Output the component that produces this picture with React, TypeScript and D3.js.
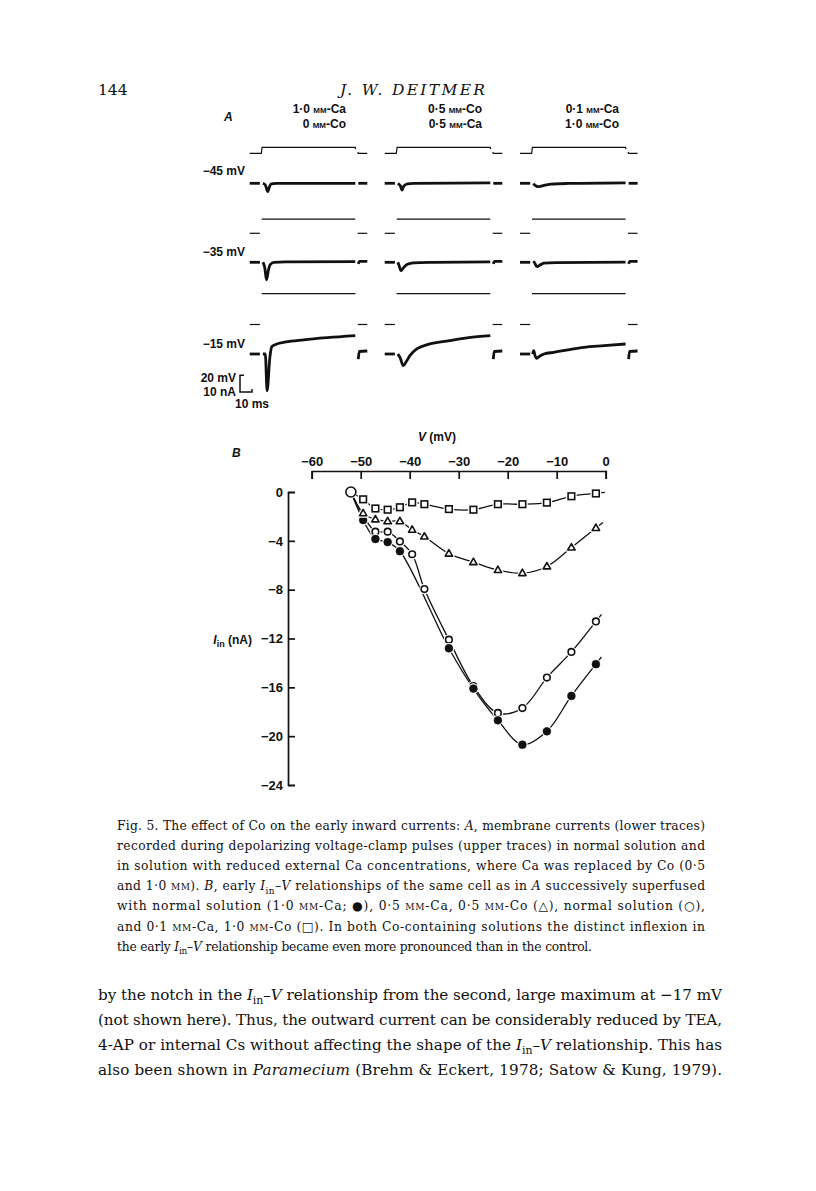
import * as d3 from "d3";
import { useEffect, useRef } from "react";

const sans = "'Liberation Sans', Arial, sans-serif";
const serif = "'DejaVu Serif', 'Liberation Serif', serif";

// ---------- panel A: membrane currents ----------
const columnLabels = [
  ["1·0 mm-Ca", "0 mm-Co"],
  ["0·5 mm-Co", "0·5 mm-Ca"],
  ["0·1 mm-Ca", "1·0 mm-Co"],
];
const stepLabels = ["−45 mV", "−35 mV", "−15 mV"];
const stepPotentials = [-45, -35, -15];
const holdingPotential = -52;
const pulseEnd = 78; // ms

// current keypoints [ms, nA], per row (step) and column (solution)
const currentsAt45 = [
  [[1, 0], [3, -1], [5, -5], [6.5, -2], [8, -0.4], [12, 0], [78, 0]],
  [[1, 0], [3, -1.5], [4.5, -4], [6, -1.6], [9, -0.3], [14, 0], [78, 0.2]],
  [[1, -0.3], [4, -1.8], [6, -2], [10, -1.2], [16, -0.5], [30, -0.1], [78, 0.3]],
];
const currentsAt35 = [
  [[1, 0], [2.5, -3], [4, -10.5], [5.5, -5], [7, -1.5], [10, 0], [20, 0.3], [78, 0.4]],
  [[1, 0], [2, -2], [3.5, -5], [6, -3], [9, -1.2], [14, -0.3], [30, 0], [78, 0.3]],
  [[1, 0.6], [2, 0], [4, -2.6], [7, -1.5], [10, -0.5], [20, -0.2], [78, 0.1]],
];
const currentsAt15 = [
  [[1, 0], [3, 0], [4.5, -22], [6.8, -2], [8.5, 4.5], [12, 5.8], [20, 7.2], [35, 8.5], [55, 9.8], [78, 11]],
  [[1, 0], [3, -2.5], [5.5, -7], [8, -4.5], [11, -1], [16.7, 3], [25, 5.5], [44, 8], [60, 9.8], [78, 11]],
  [[0.5, 0], [1.5, 2], [2.5, -1], [4, -2.6], [6, -1.5], [10, 0], [18, 1], [30, 2.5], [43, 4], [60, 5], [78, 6]],
];
const currentRows = [currentsAt45, currentsAt35, currentsAt15];
const preCurrent = [[-10, 0], [-1.5, 0]];
const postCurrents = [
  [[80.5, 0], [88, 0]],
  [[80.5, -1], [81.5, 0.6], [88, 0.6]],
  [[80.5, -3], [81.3, 1.5], [88, 1.8]],
];

// ---------- panel B: early Iin-V ----------
const ivVoltage = [-52, -49.5, -47, -44.5, -42, -39.5, -37, -32, -27, -22, -17, -12, -7, -2];
const ivControl = [0, -2.3, -3.85, -4.1, -4.85, null, null, -12.8, -16.1, -18.7, -20.7, -19.6, -16.7, -14.1];
const ivCo05 = [0, -1.75, -2.25, -2.4, -2.4, -3.1, -3.65, -5.05, -5.75, -6.4, -6.65, -6.1, -4.55, -2.95];
const ivWash = [0, null, -3.25, -3.25, -4.05, -5.1, -7.95, -12.1, -15.9, -18.1, -17.7, -15.2, -13.1, -10.6];
const ivCo10 = [0, -0.6, -1.35, -1.45, -1.25, -0.85, -1.0, -1.4, -1.45, -1.0, -1.0, -0.87, -0.35, -0.12];
const xTicksB = [-60, -50, -40, -30, -20, -10, 0];
const yTicksB = [0, -4, -8, -12, -16, -20, -24];

// ---------- text ----------
type Seg = string | { t: string; i?: boolean; sub?: boolean; sc?: boolean };
const I_in: Seg[] = [{ t: "I", i: true }, { t: "in", sub: true }, "–", { t: "V", i: true }];
const mm: Seg = { t: "mm", sc: true };

const captionLines: Seg[][] = [
  ["Fig. 5. The effect of Co on the early inward currents: ", { t: "A", i: true }, ", membrane currents (lower traces)"],
  ["recorded during depolarizing voltage-clamp pulses (upper traces) in normal solution and"],
  ["in solution with reduced external Ca concentrations, where Ca was replaced by Co (0·5"],
  ["and 1·0 ", mm, "). ", { t: "B", i: true }, ", early ", ...I_in, " relationships of the same cell as in ", { t: "A", i: true }, " successively superfused"],
  ["with normal solution (1·0 ", mm, "-Ca; ●), 0·5 ", mm, "-Ca, 0·5 ", mm, "-Co (△), normal solution (○),"],
  ["and 0·1 ", mm, "-Ca, 1·0 ", mm, "-Co (□). In both Co-containing solutions the distinct inflexion in"],
  ["the early ", ...I_in, " relationship became even more pronounced than in the control."],
];
const captionWidths = [588, 588, 588, 588, 588, 588, 475];
const bodyLines: Seg[][] = [
  ["by the notch in the ", ...I_in, " relationship from the second, large maximum at −17 mV"],
  ["(not shown here). Thus, the outward current can be considerably reduced by TEA,"],
  ["4-AP or internal Cs without affecting the shape of the ", ...I_in, " relationship. This has"],
  ["also been shown in ", { t: "Paramecium", i: true }, " (Brehm & Eckert, 1978; Satow & Kung, 1979)."],
];

function TextLine({ x, y, size, segs, width }: { x: number; y: number; size: number; segs: Seg[]; width?: number }) {
  let inSub = false;
  const shift = size * 0.28;
  return (
    <text x={x} y={y} fontSize={size} fontFamily={serif} fill="#111" textLength={width} lengthAdjust={width ? "spacing" : undefined}>
      {segs.map((s, k) => {
        const seg = typeof s === "string" ? { t: s } : s;
        let dy: number | undefined;
        if (seg.sub && !inSub) { dy = shift; inSub = true; }
        else if (!seg.sub && inSub) { dy = -shift; inSub = false; }
        return (
          <tspan key={k} dy={dy} fontStyle={seg.i ? "italic" : undefined}
            fontSize={seg.sub ? size * 0.72 : undefined}
            style={seg.sc ? { fontVariant: "small-caps" } : undefined}>{seg.t}</tspan>
        );
      })}
    </text>
  );
}

function smallCaps(str: string) {
  const parts = str.split("mm");
  return parts.flatMap((p, i) => i === 0 ? [p] : [<tspan key={i} style={{ fontVariant: "small-caps" }}>mm</tspan>, p]);
}

const App = () => {
  const xAxisRef = useRef<SVGGElement>(null);
  const yAxisRef = useRef<SVGGElement>(null);

  // panel A layout
  const colT0 = [261.7, 396.7, 532];
  const vBase = [153.3, 233.3, 324.5];
  const iBase = [183.3, 262.3, 354];
  const msPx = 1.2, nAPx = 1.67, mVPx = 0.835;

  // panel B scales
  const xB = d3.scaleLinear().domain([-60, 0]).range([311.7, 605.7]);
  const yB = d3.scaleLinear().domain([0, -24]).range([492, 785]);

  useEffect(() => {
    const gx = d3.select(xAxisRef.current!);
    gx.call(d3.axisTop(xB).tickValues(xTicksB).tickSizeInner(-8).tickSizeOuter(-8).tickPadding(5) as any);
    const gy = d3.select(yAxisRef.current!);
    gy.call(d3.axisLeft(yB).tickValues(yTicksB).tickSizeInner(-7).tickSizeOuter(-7).tickPadding(5) as any);
    [gx, gy].forEach((g) => {
      g.attr("font-family", null).attr("font-size", null);
      g.select(".domain").attr("stroke-width", 1.7).attr("stroke", "#111");
      g.selectAll(".tick line").attr("stroke-width", 1.7).attr("stroke", "#111");
      g.selectAll("text").attr("font-family", sans).attr("font-size", 13).attr("font-weight", "bold").attr("fill", "#111");
    });
  }, []);

  const tracePaths: JSX.Element[] = [];
  stepPotentials.forEach((V, r) => {
    colT0.forEach((t0, c) => {
      const x = d3.scaleLinear().domain([0, 10]).range([t0, t0 + 10 * msPx]);
      const yI = d3.scaleLinear().domain([0, -10]).range([iBase[r], iBase[r] + 10 * nAPx]);
      const yV = d3.scaleLinear().domain([holdingPotential, holdingPotential + 20]).range([vBase[r], vBase[r] - 20 * mVPx]);
      const linV = d3.line<number[]>().x((d) => x(d[0])).y((d) => yV(d[1]));
      const curI = d3.line<number[]>().x((d) => x(d[0])).y((d) => yI(d[1])).curve(d3.curveMonotoneX);
      const vSegs = r === 0
        ? [[[-10, holdingPotential], [-0.3, holdingPotential], [0.3, V], [pulseEnd, V], [pulseEnd + 0.3, V - 2]], [[80, holdingPotential + 1.5], [80.5, holdingPotential], [88, holdingPotential]]]
        : [[[-10, holdingPotential], [-1.5, holdingPotential]], [[0, V], [pulseEnd, V]], [[80, holdingPotential], [88, holdingPotential]]];
      vSegs.forEach((s, k) => tracePaths.push(
        <path key={`v${r}${c}${k}`} d={linV(s) || ""} fill="none" stroke="#111" strokeWidth={1.2} />
      ));
      [preCurrent, currentRows[r][c], postCurrents[r]].forEach((s, k) => tracePaths.push(
        <path key={`i${r}${c}${k}`} d={curI(s) || ""} fill="none" stroke="#111" strokeWidth={2.8} strokeLinejoin="round" />
      ));
    });
  });

  // scale bar derived from the same units
  const sbX = 240, sbY = 392;

  // IV series
  const series = [
    { key: "wash", vals: ivWash, mark: "open" },
    { key: "control", vals: ivControl, mark: "filled" },
    { key: "co05", vals: ivCo05, mark: "tri" },
    { key: "co10", vals: ivCo10, mark: "square" },
  ];
  const ivLine = d3.line<[number, number]>().x((d) => xB(d[0])).y((d) => yB(d[1])).curve(d3.curveCatmullRom.alpha(0.5));

  const lines = series.map((s) => {
    const pts = ivVoltage.map((v, i) => [v, s.vals[i]] as [number, number | null]).filter((d) => d[1] !== null) as [number, number][];
    const n = pts.length;
    const p1 = [xB(pts[n - 2][0]), yB(pts[n - 2][1])];
    const p2 = [xB(pts[n - 1][0]), yB(pts[n - 1][1])];
    const len = Math.hypot(p2[0] - p1[0], p2[1] - p1[1]);
    const tail = `M${p2[0]},${p2[1]}L${p2[0] + ((p2[0] - p1[0]) / len) * 9},${p2[1] + ((p2[1] - p1[1]) / len) * 9}`;
    return (
      <g key={s.key}>
        <path d={ivLine(pts) || ""} fill="none" stroke="#111" strokeWidth={1.3} />
        <path d={tail} fill="none" stroke="#111" strokeWidth={1.3} />
      </g>
    );
  });

  const marker = (mark: string, cx: number, cy: number, key: string) => {
    if (mark === "open" || mark === "filled") {
      return (
        <g key={key}>
          <circle cx={cx} cy={cy} r={4.2} fill="#fff" stroke="#fff" strokeWidth={2.2} />
          <circle cx={cx} cy={cy} r={mark === "open" ? 3.3 : 3.9} fill={mark === "open" ? "#fff" : "#111"} stroke="#111" strokeWidth={mark === "open" ? 1.6 : 0.6} />
        </g>
      );
    }
    if (mark === "tri") {
      const s = 7.4, h = s * 0.866;
      const d = `M${cx},${cy - h * 0.62}L${cx + s / 2},${cy + h * 0.38}L${cx - s / 2},${cy + h * 0.38}Z`;
      return (
        <g key={key}>
          <path d={d} fill="#fff" stroke="#fff" strokeWidth={4} strokeLinejoin="round" />
          <path d={d} fill="#fff" stroke="#111" strokeWidth={1.6} strokeLinejoin="round" />
        </g>
      );
    }
    const s = 6.6;
    return (
      <g key={key}>
        <rect x={cx - s / 2} y={cy - s / 2} width={s} height={s} fill="#fff" stroke="#fff" strokeWidth={4} />
        <rect x={cx - s / 2} y={cy - s / 2} width={s} height={s} fill="#fff" stroke="#111" strokeWidth={1.6} />
      </g>
    );
  };

  const markers = series.flatMap((s) =>
    ivVoltage.map((v, i) => (i === 0 || s.vals[i] === null ? null : marker(s.mark, xB(v), yB(s.vals[i] as number), `${s.key}${i}`)))
  );

  return (
    <svg width={816} height={1191} style={{ position: "absolute", left: 0, top: 0, background: "#fff" }}>
      <rect width={816} height={1191} fill="#fff" />
      {/* running head */}
      <text x={98} y={95} fontFamily={serif} fontSize={15.5} fill="#111">144</text>
      <text x={340} y={95} fontFamily={serif} fontSize={15.5} fontStyle="italic" fill="#111" textLength={145} lengthAdjust="spacing">J. W. DEITMER</text>

      {/* panel A */}
      <g fontFamily={sans} fontWeight="bold" fill="#111">
        <text x={224} y={121} fontSize={12} fontStyle="italic">A</text>
        {columnLabels.map((lab, c) => (
          <g key={c}>
            {lab.map((l, k) => (
              <text key={k} x={[346, 482, 619][c]} y={113 + k * 15} fontSize={12} textAnchor="end">{smallCaps(l)}</text>
            ))}
          </g>
        ))}
        {stepLabels.map((l, r) => (
          <text key={l} x={245} y={[175, 256, 348][r]} fontSize={12} textAnchor="end">{l}</text>
        ))}
        <text x={236} y={382} fontSize={12} textAnchor="end">20 mV</text>
        <text x={236} y={396} fontSize={12} textAnchor="end">10 nA</text>
        <text x={235} y={408} fontSize={12}>10 ms</text>
      </g>
      {tracePaths}
      <path d={`M${sbX + 4},${sbY - 10 * nAPx}H${sbX}V${sbY}H${sbX + 10 * msPx}V${sbY - 3}`} fill="none" stroke="#111" strokeWidth={1.5} />

      {/* panel B */}
      <g fontFamily={sans} fontWeight="bold" fill="#111">
        <text x={232} y={457} fontSize={12} fontStyle="italic">B</text>
        <text x={437} y={441} fontSize={12} textAnchor="middle"><tspan fontStyle="italic">V</tspan> (mV)</text>
        <text x={252} y={644} fontSize={12} textAnchor="end"><tspan fontStyle="italic">I</tspan><tspan dy={3} fontSize={9}>in</tspan><tspan dy={-3}> (nA)</tspan></text>
      </g>
      <g ref={xAxisRef} transform={`translate(0,471)`} />
      <g ref={yAxisRef} transform={`translate(288,0)`} />
      {lines}
      {markers}
      <circle cx={xB(ivVoltage[0])} cy={yB(0)} r={6.5} fill="#fff" />
      <circle cx={xB(ivVoltage[0])} cy={yB(0)} r={5} fill="#fff" stroke="#111" strokeWidth={1.6} />

      {/* caption */}
      {captionLines.map((segs, i) => (
        <TextLine key={i} x={117} y={830 + i * 20.1} size={12.3} segs={segs} width={captionWidths[i]} />
      ))}
      {/* body text */}
      {bodyLines.map((segs, i) => (
        <TextLine key={i} x={98} y={1000 + i * 25} size={15.2} segs={segs} width={624} />
      ))}
    </svg>
  );
};

export default App;
